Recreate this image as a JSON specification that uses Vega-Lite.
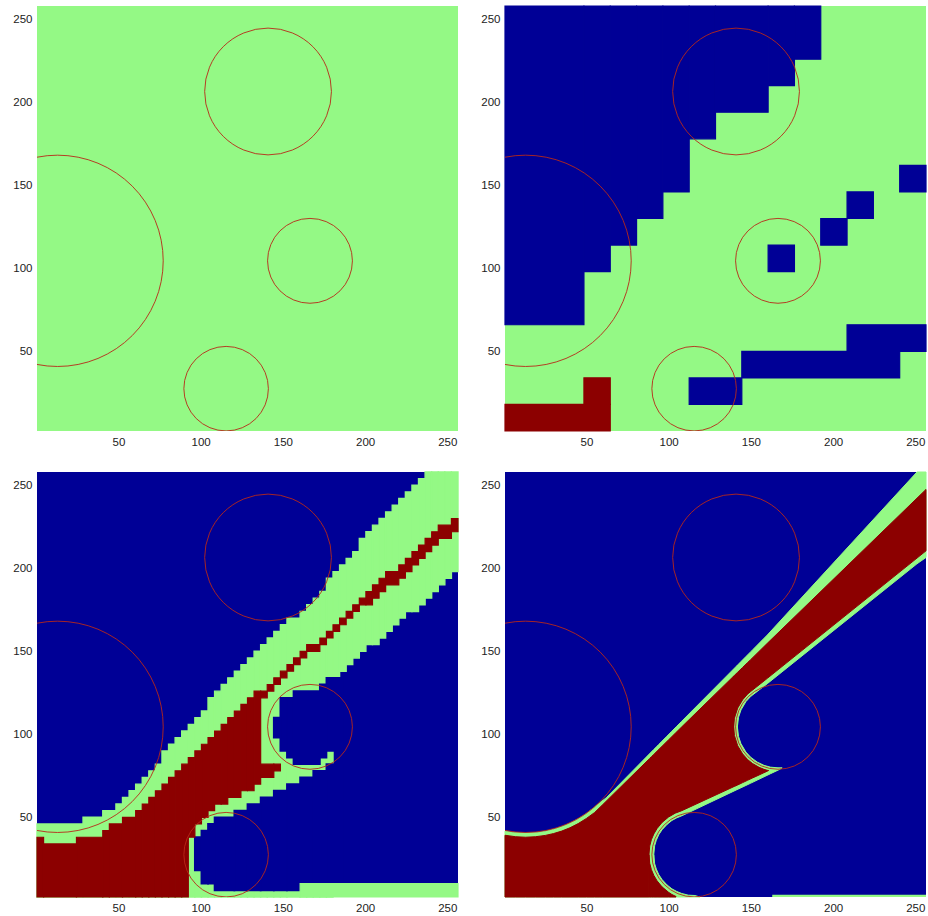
{
  "$schema": "https://vega.github.io/schema/vega-lite/v6.json",
  "padding": {"left": 12, "top": 5, "right": 0, "bottom": 0},
  "bounds": "flush",
  "columns": 2,
  "spacing": {"row": 41, "column": 47},
  "config": {
    "view": {"stroke": null},
    "axis": {"ticks": false, "domain": false, "grid": false, "labelFont": "Liberation Sans", "labelFontSize": 11.5, "labelColor": "#222222", "labelFlush": false},
    "axisX": {"labelPadding": 5},
    "axisY": {"labelPadding": 5, "labelOffset": 3}
  },
  "datasets": {
    "circles": [
      {"cx": 13, "cy": 103, "r": 64},
      {"cx": 141, "cy": 205, "r": 38.4},
      {"cx": 166.5, "cy": 103, "r": 25.7},
      {"cx": 115.5, "cy": 26, "r": 25.6}
    ],
    "p1": [
      {"z": 0, "c": "g", "x": 0.5, "x2": 256.5, "y": 0.5, "y2": 256.5}
    ],
    "p2": [
      {"z": 0, "c": "g", "x": 0.5, "x2": 256.5, "y": 0.5, "y2": 256.5},
      {"z": 1, "c": "b", "x": 0.5, "x2": 48.5, "y": 64.5, "y2": 256.5},
      {"z": 1, "c": "b", "x": 48.5, "x2": 64.5, "y": 96.5, "y2": 256.5},
      {"z": 1, "c": "b", "x": 64.5, "x2": 80.5, "y": 112.5, "y2": 256.5},
      {"z": 1, "c": "b", "x": 80.5, "x2": 96.5, "y": 128.5, "y2": 256.5},
      {"z": 1, "c": "b", "x": 96.5, "x2": 112.5, "y": 144.5, "y2": 256.5},
      {"z": 1, "c": "b", "x": 112.5, "x2": 128.5, "y": 176.5, "y2": 256.5},
      {"z": 1, "c": "b", "x": 128.5, "x2": 160.5, "y": 192.5, "y2": 256.5},
      {"z": 1, "c": "b", "x": 160.5, "x2": 176.5, "y": 208.5, "y2": 256.5},
      {"z": 1, "c": "b", "x": 176.5, "x2": 192.5, "y": 224.5, "y2": 256.5},
      {"z": 1, "c": "b", "x": 240.5, "x2": 256.5, "y": 144.5, "y2": 160.5},
      {"z": 1, "c": "b", "x": 208.5, "x2": 224.5, "y": 128.5, "y2": 144.5},
      {"z": 1, "c": "b", "x": 192.5, "x2": 208.5, "y": 112.5, "y2": 128.5},
      {"z": 1, "c": "b", "x": 160.5, "x2": 176.5, "y": 96.5, "y2": 112.5},
      {"z": 1, "c": "b", "x": 208.5, "x2": 256.5, "y": 48.5, "y2": 64.5},
      {"z": 1, "c": "b", "x": 144.5, "x2": 240.5, "y": 32.5, "y2": 48.5},
      {"z": 1, "c": "b", "x": 112.5, "x2": 144.5, "y": 16.5, "y2": 32.5},
      {"z": 1, "c": "r", "x": 0.5, "x2": 64.5, "y": 0.5, "y2": 16.5},
      {"z": 1, "c": "r", "x": 48.5, "x2": 64.5, "y": 16.5, "y2": 32.5}
    ],
    "p3": [
      {"z": 0, "c": "b", "x": 0.5, "x2": 256.5, "y": 0.5, "y2": 256.5},
      {"z": 1, "c": "g", "x": 0.5, "x2": 28.5, "y": 0.5, "y2": 44.5},
      {"z": 1, "c": "g", "x": 28.5, "x2": 40.5, "y": 0.5, "y2": 48.5},
      {"z": 1, "c": "g", "x": 40.5, "x2": 48.5, "y": 0.5, "y2": 52.5},
      {"z": 1, "c": "g", "x": 48.5, "x2": 52.5, "y": 0.5, "y2": 56.5},
      {"z": 1, "c": "g", "x": 52.5, "x2": 56.5, "y": 0.5, "y2": 60.5},
      {"z": 1, "c": "g", "x": 56.5, "x2": 60.5, "y": 0.5, "y2": 64.5},
      {"z": 1, "c": "g", "x": 60.5, "x2": 64.5, "y": 0.5, "y2": 68.5},
      {"z": 1, "c": "g", "x": 64.5, "x2": 68.5, "y": 0.5, "y2": 72.5},
      {"z": 1, "c": "g", "x": 68.5, "x2": 72.5, "y": 0.5, "y2": 76.5},
      {"z": 1, "c": "g", "x": 72.5, "x2": 76.5, "y": 0.5, "y2": 80.5},
      {"z": 1, "c": "g", "x": 76.5, "x2": 80.5, "y": 0.5, "y2": 88.5},
      {"z": 1, "c": "g", "x": 80.5, "x2": 84.5, "y": 0.5, "y2": 92.5},
      {"z": 1, "c": "g", "x": 84.5, "x2": 88.5, "y": 0.5, "y2": 96.5},
      {"z": 1, "c": "g", "x": 88.5, "x2": 92.5, "y": 0.5, "y2": 100.5},
      {"z": 1, "c": "g", "x": 92.5, "x2": 96.5, "y": 0.5, "y2": 104.5},
      {"z": 1, "c": "g", "x": 96.5, "x2": 100.5, "y": 0.5, "y2": 108.5},
      {"z": 1, "c": "g", "x": 100.5, "x2": 104.5, "y": 0.5, "y2": 112.5},
      {"z": 1, "c": "g", "x": 104.5, "x2": 108.5, "y": 0.5, "y2": 120.5},
      {"z": 1, "c": "g", "x": 108.5, "x2": 112.5, "y": 0.5, "y2": 124.5},
      {"z": 1, "c": "g", "x": 112.5, "x2": 116.5, "y": 0.5, "y2": 128.5},
      {"z": 1, "c": "g", "x": 116.5, "x2": 120.5, "y": 0.5, "y2": 132.5},
      {"z": 1, "c": "g", "x": 120.5, "x2": 124.5, "y": 0.5, "y2": 136.5},
      {"z": 1, "c": "g", "x": 124.5, "x2": 128.5, "y": 0.5, "y2": 140.5},
      {"z": 1, "c": "g", "x": 128.5, "x2": 132.5, "y": 0.5, "y2": 144.5},
      {"z": 1, "c": "g", "x": 132.5, "x2": 136.5, "y": 0.5, "y2": 148.5},
      {"z": 1, "c": "g", "x": 136.5, "x2": 140.5, "y": 0.5, "y2": 152.5},
      {"z": 1, "c": "g", "x": 140.5, "x2": 144.5, "y": 0.5, "y2": 156.5},
      {"z": 1, "c": "g", "x": 144.5, "x2": 148.5, "y": 0.5, "y2": 160.5},
      {"z": 1, "c": "g", "x": 148.5, "x2": 152.5, "y": 0.5, "y2": 164.5},
      {"z": 1, "c": "g", "x": 152.5, "x2": 160.5, "y": 0.5, "y2": 168.5},
      {"z": 1, "c": "g", "x": 160.5, "x2": 164.5, "y": 0.5, "y2": 172.5},
      {"z": 1, "c": "g", "x": 164.5, "x2": 168.5, "y": 0.5, "y2": 176.5},
      {"z": 1, "c": "g", "x": 168.5, "x2": 172.5, "y": 0.5, "y2": 180.5},
      {"z": 1, "c": "g", "x": 172.5, "x2": 176.5, "y": 0.5, "y2": 184.5},
      {"z": 1, "c": "g", "x": 176.5, "x2": 180.5, "y": 0.5, "y2": 192.5},
      {"z": 1, "c": "g", "x": 180.5, "x2": 184.5, "y": 132.5, "y2": 196.5},
      {"z": 1, "c": "g", "x": 184.5, "x2": 188.5, "y": 136.5, "y2": 200.5},
      {"z": 1, "c": "g", "x": 188.5, "x2": 192.5, "y": 140.5, "y2": 204.5},
      {"z": 1, "c": "g", "x": 192.5, "x2": 196.5, "y": 144.5, "y2": 208.5},
      {"z": 1, "c": "g", "x": 196.5, "x2": 200.5, "y": 148.5, "y2": 216.5},
      {"z": 1, "c": "g", "x": 200.5, "x2": 204.5, "y": 152.5, "y2": 220.5},
      {"z": 1, "c": "g", "x": 204.5, "x2": 208.5, "y": 152.5, "y2": 224.5},
      {"z": 1, "c": "g", "x": 208.5, "x2": 212.5, "y": 156.5, "y2": 228.5},
      {"z": 1, "c": "g", "x": 212.5, "x2": 216.5, "y": 160.5, "y2": 232.5},
      {"z": 1, "c": "g", "x": 216.5, "x2": 220.5, "y": 164.5, "y2": 236.5},
      {"z": 1, "c": "g", "x": 220.5, "x2": 224.5, "y": 168.5, "y2": 240.5},
      {"z": 1, "c": "g", "x": 224.5, "x2": 228.5, "y": 172.5, "y2": 244.5},
      {"z": 1, "c": "g", "x": 228.5, "x2": 232.5, "y": 172.5, "y2": 248.5},
      {"z": 1, "c": "g", "x": 232.5, "x2": 236.5, "y": 176.5, "y2": 252.5},
      {"z": 1, "c": "g", "x": 236.5, "x2": 240.5, "y": 180.5, "y2": 256.5},
      {"z": 1, "c": "g", "x": 240.5, "x2": 244.5, "y": 184.5, "y2": 256.5},
      {"z": 1, "c": "g", "x": 244.5, "x2": 248.5, "y": 188.5, "y2": 256.5},
      {"z": 1, "c": "g", "x": 248.5, "x2": 252.5, "y": 192.5, "y2": 256.5},
      {"z": 1, "c": "g", "x": 252.5, "x2": 256.5, "y": 196.5, "y2": 256.5},
      {"z": 2, "c": "b", "x": 96.5, "x2": 100.5, "y": 16.5, "y2": 36.5},
      {"z": 2, "c": "b", "x": 100.5, "x2": 104.5, "y": 8.5, "y2": 40.5},
      {"z": 2, "c": "b", "x": 104.5, "x2": 108.5, "y": 8.5, "y2": 44.5},
      {"z": 2, "c": "b", "x": 108.5, "x2": 120.5, "y": 4.5, "y2": 48.5},
      {"z": 2, "c": "b", "x": 120.5, "x2": 128.5, "y": 4.5, "y2": 52.5},
      {"z": 2, "c": "b", "x": 128.5, "x2": 136.5, "y": 4.5, "y2": 56.5},
      {"z": 2, "c": "b", "x": 136.5, "x2": 144.5, "y": 4.5, "y2": 60.5},
      {"z": 2, "c": "b", "x": 144.5, "x2": 152.5, "y": 4.5, "y2": 64.5},
      {"z": 2, "c": "b", "x": 152.5, "x2": 160.5, "y": 4.5, "y2": 68.5},
      {"z": 2, "c": "b", "x": 160.5, "x2": 168.5, "y": 8.5, "y2": 72.5},
      {"z": 2, "c": "b", "x": 168.5, "x2": 176.5, "y": 8.5, "y2": 76.5},
      {"z": 2, "c": "b", "x": 176.5, "x2": 186.5, "y": 8.5, "y2": 80.5},
      {"z": 2, "c": "b", "x": 144.5, "x2": 148.5, "y": 96.5, "y2": 108.5},
      {"z": 2, "c": "b", "x": 148.5, "x2": 152.5, "y": 88.5, "y2": 120.5},
      {"z": 2, "c": "b", "x": 152.5, "x2": 156.5, "y": 84.5, "y2": 120.5},
      {"z": 2, "c": "b", "x": 156.5, "x2": 172.5, "y": 80.5, "y2": 124.5},
      {"z": 2, "c": "b", "x": 172.5, "x2": 176.5, "y": 84.5, "y2": 128.5},
      {"z": 2, "c": "b", "x": 176.5, "x2": 186.5, "y": 88.5, "y2": 132.5},
      {"z": 3, "c": "g", "x": 160.5, "x2": 256.5, "y": 0.5, "y2": 8.5},
      {"z": 3, "c": "r", "x": 0.5, "x2": 4.5, "y": 0.5, "y2": 36.5},
      {"z": 3, "c": "r", "x": 4.5, "x2": 24.5, "y": 0.5, "y2": 32.5},
      {"z": 3, "c": "r", "x": 24.5, "x2": 40.5, "y": 0.5, "y2": 36.5},
      {"z": 3, "c": "r", "x": 40.5, "x2": 44.5, "y": 0.5, "y2": 40.5},
      {"z": 3, "c": "r", "x": 44.5, "x2": 52.5, "y": 0.5, "y2": 44.5},
      {"z": 3, "c": "r", "x": 52.5, "x2": 60.5, "y": 0.5, "y2": 48.5},
      {"z": 3, "c": "r", "x": 60.5, "x2": 64.5, "y": 0.5, "y2": 52.5},
      {"z": 3, "c": "r", "x": 64.5, "x2": 68.5, "y": 0.5, "y2": 56.5},
      {"z": 3, "c": "r", "x": 68.5, "x2": 72.5, "y": 0.5, "y2": 60.5},
      {"z": 3, "c": "r", "x": 72.5, "x2": 76.5, "y": 0.5, "y2": 64.5},
      {"z": 3, "c": "r", "x": 76.5, "x2": 80.5, "y": 0.5, "y2": 68.5},
      {"z": 3, "c": "r", "x": 80.5, "x2": 84.5, "y": 0.5, "y2": 72.5},
      {"z": 3, "c": "r", "x": 84.5, "x2": 88.5, "y": 0.5, "y2": 76.5},
      {"z": 3, "c": "r", "x": 88.5, "x2": 92.5, "y": 0.5, "y2": 80.5},
      {"z": 3, "c": "r", "x": 92.5, "x2": 96.5, "y": 36.5, "y2": 84.5},
      {"z": 3, "c": "r", "x": 96.5, "x2": 100.5, "y": 44.5, "y2": 88.5},
      {"z": 3, "c": "r", "x": 100.5, "x2": 104.5, "y": 48.5, "y2": 92.5},
      {"z": 3, "c": "r", "x": 104.5, "x2": 108.5, "y": 52.5, "y2": 96.5},
      {"z": 3, "c": "r", "x": 108.5, "x2": 112.5, "y": 56.5, "y2": 100.5},
      {"z": 3, "c": "r", "x": 112.5, "x2": 116.5, "y": 56.5, "y2": 104.5},
      {"z": 3, "c": "r", "x": 116.5, "x2": 120.5, "y": 60.5, "y2": 108.5},
      {"z": 3, "c": "r", "x": 120.5, "x2": 124.5, "y": 60.5, "y2": 112.5},
      {"z": 3, "c": "r", "x": 124.5, "x2": 128.5, "y": 64.5, "y2": 116.5},
      {"z": 3, "c": "r", "x": 128.5, "x2": 132.5, "y": 64.5, "y2": 120.5},
      {"z": 3, "c": "r", "x": 132.5, "x2": 136.5, "y": 68.5, "y2": 124.5},
      {"z": 3, "c": "r", "x": 136.5, "x2": 144.5, "y": 72.5, "y2": 80.5},
      {"z": 3, "c": "r", "x": 144.5, "x2": 148.5, "y": 76.5, "y2": 80.5},
      {"z": 3, "c": "r", "x": 136.5, "x2": 140.5, "y": 120.5, "y2": 124.5},
      {"z": 3, "c": "r", "x": 140.5, "x2": 144.5, "y": 124.5, "y2": 128.5},
      {"z": 3, "c": "r", "x": 144.5, "x2": 148.5, "y": 128.5, "y2": 132.5},
      {"z": 3, "c": "r", "x": 148.5, "x2": 152.5, "y": 132.5, "y2": 136.5},
      {"z": 3, "c": "r", "x": 152.5, "x2": 156.5, "y": 136.5, "y2": 140.5},
      {"z": 3, "c": "r", "x": 156.5, "x2": 160.5, "y": 140.5, "y2": 144.5},
      {"z": 3, "c": "r", "x": 160.5, "x2": 164.5, "y": 144.5, "y2": 148.5},
      {"z": 3, "c": "r", "x": 164.5, "x2": 172.5, "y": 148.5, "y2": 152.5},
      {"z": 3, "c": "r", "x": 172.5, "x2": 176.5, "y": 152.5, "y2": 156.5},
      {"z": 3, "c": "r", "x": 176.5, "x2": 180.5, "y": 156.5, "y2": 160.5},
      {"z": 3, "c": "r", "x": 180.5, "x2": 184.5, "y": 160.5, "y2": 164.5},
      {"z": 3, "c": "r", "x": 184.5, "x2": 188.5, "y": 164.5, "y2": 168.5},
      {"z": 3, "c": "r", "x": 188.5, "x2": 192.5, "y": 168.5, "y2": 172.5},
      {"z": 3, "c": "r", "x": 192.5, "x2": 196.5, "y": 172.5, "y2": 176.5},
      {"z": 3, "c": "r", "x": 196.5, "x2": 200.5, "y": 176.5, "y2": 180.5},
      {"z": 3, "c": "r", "x": 200.5, "x2": 204.5, "y": 176.5, "y2": 184.5},
      {"z": 3, "c": "r", "x": 204.5, "x2": 208.5, "y": 180.5, "y2": 188.5},
      {"z": 3, "c": "r", "x": 208.5, "x2": 212.5, "y": 184.5, "y2": 192.5},
      {"z": 3, "c": "r", "x": 212.5, "x2": 220.5, "y": 188.5, "y2": 196.5},
      {"z": 3, "c": "r", "x": 220.5, "x2": 224.5, "y": 192.5, "y2": 200.5},
      {"z": 3, "c": "r", "x": 224.5, "x2": 228.5, "y": 196.5, "y2": 204.5},
      {"z": 3, "c": "r", "x": 228.5, "x2": 232.5, "y": 200.5, "y2": 208.5},
      {"z": 3, "c": "r", "x": 232.5, "x2": 236.5, "y": 204.5, "y2": 212.5},
      {"z": 3, "c": "r", "x": 236.5, "x2": 240.5, "y": 208.5, "y2": 216.5},
      {"z": 3, "c": "r", "x": 240.5, "x2": 244.5, "y": 212.5, "y2": 220.5},
      {"z": 3, "c": "r", "x": 244.5, "x2": 252.5, "y": 216.5, "y2": 224.5},
      {"z": 3, "c": "r", "x": 252.5, "x2": 256.5, "y": 220.5, "y2": 228.5}
    ],
    "p4": [
      {"z": 0, "c": "b", "x": 0.5, "x2": 256.5, "y": 0.5, "y2": 256.5},
      {"z": 4, "c": "g", "x": 163, "x2": 256.5, "y": 0.5, "y2": 1.8}
    ],
    "p4a": [
      {"s": "g1", "c": "g", "x": 0.5, "lo": 0.5, "hi": 40.2},
      {"s": "g1", "c": "g", "x": 5, "lo": 0.5, "hi": 39.5},
      {"s": "g1", "c": "g", "x": 13, "lo": 0.5, "hi": 39},
      {"s": "g1", "c": "g", "x": 20, "lo": 0.5, "hi": 39.4},
      {"s": "g1", "c": "g", "x": 25, "lo": 0.5, "hi": 40.1},
      {"s": "g1", "c": "g", "x": 30, "lo": 0.5, "hi": 41.3},
      {"s": "g1", "c": "g", "x": 35, "lo": 0.5, "hi": 42.9},
      {"s": "g1", "c": "g", "x": 40, "lo": 0.5, "hi": 45},
      {"s": "g1", "c": "g", "x": 45, "lo": 0.5, "hi": 47.6},
      {"s": "g1", "c": "g", "x": 50, "lo": 0.5, "hi": 50.8},
      {"s": "g1", "c": "g", "x": 55, "lo": 0.5, "hi": 54.7},
      {"s": "g1", "c": "g", "x": 58, "lo": 0.5, "hi": 57.2},
      {"s": "g1", "c": "g", "x": 62, "lo": 0.5, "hi": 60.2},
      {"s": "g1", "c": "g", "x": 90.9, "lo": 0.5, "hi": 89.3},
      {"s": "g1", "c": "g", "x": 90.95, "lo": 26, "hi": 89.4},
      {"s": "g1", "c": "g", "x": 91.5, "lo": 31.4, "hi": 89.9},
      {"s": "g1", "c": "g", "x": 92.5, "lo": 34.7, "hi": 90.9},
      {"s": "g1", "c": "g", "x": 94, "lo": 38, "hi": 92.4},
      {"s": "g1", "c": "g", "x": 96, "lo": 41, "hi": 94.4},
      {"s": "g1", "c": "g", "x": 99, "lo": 44.2, "hi": 97.4},
      {"s": "g1", "c": "g", "x": 102, "lo": 46.6, "hi": 100.4},
      {"s": "g1", "c": "g", "x": 105, "lo": 48.2, "hi": 103.4},
      {"s": "g1", "c": "g", "x": 108, "lo": 49.4, "hi": 106.4},
      {"s": "g1", "c": "g", "x": 141.8, "lo": 65.3, "hi": 140.1},
      {"s": "g2", "c": "g", "x": 90.9, "lo": 0.5, "hi": 26},
      {"s": "g2", "c": "g", "x": 91.5, "lo": 0.5, "hi": 20.6},
      {"s": "g2", "c": "g", "x": 92.5, "lo": 0.5, "hi": 17.3},
      {"s": "g2", "c": "g", "x": 94, "lo": 0.5, "hi": 14},
      {"s": "g2", "c": "g", "x": 96, "lo": 0.5, "hi": 11},
      {"s": "g2", "c": "g", "x": 99, "lo": 0.5, "hi": 7.8},
      {"s": "g2", "c": "g", "x": 102, "lo": 0.5, "hi": 5.4},
      {"s": "g2", "c": "g", "x": 105, "lo": 0.5, "hi": 3.8},
      {"s": "g2", "c": "g", "x": 108, "lo": 0.5, "hi": 2.6},
      {"s": "g2", "c": "g", "x": 112, "lo": 0.5, "hi": 1.6},
      {"s": "g2", "c": "g", "x": 116, "lo": 0.5, "hi": 1.4},
      {"s": "g2", "c": "g", "x": 119, "lo": 0.5, "hi": 0.5},
      {"s": "g3", "c": "g", "x": 141.8, "lo": 65.3, "hi": 103},
      {"s": "g3", "c": "g", "x": 142.5, "lo": 65.6, "hi": 97.2},
      {"s": "g3", "c": "g", "x": 144, "lo": 66.3, "hi": 92.8},
      {"s": "g3", "c": "g", "x": 147, "lo": 67.7, "hi": 87.8},
      {"s": "g3", "c": "g", "x": 150, "lo": 69.1, "hi": 84.6},
      {"s": "g3", "c": "g", "x": 154, "lo": 71, "hi": 81.7},
      {"s": "g3", "c": "g", "x": 158, "lo": 72.9, "hi": 79.8},
      {"s": "g3", "c": "g", "x": 162, "lo": 74.8, "hi": 78.7},
      {"s": "g3", "c": "g", "x": 166.5, "lo": 76.9, "hi": 78.3},
      {"s": "g3", "c": "g", "x": 169, "lo": 78.2, "hi": 78.3},
      {"s": "g4", "c": "g", "x": 141.8, "lo": 103, "hi": 140.1},
      {"s": "g4", "c": "g", "x": 142.5, "lo": 108.8, "hi": 140.8},
      {"s": "g4", "c": "g", "x": 144, "lo": 113.2, "hi": 142.3},
      {"s": "g4", "c": "g", "x": 147, "lo": 118.2, "hi": 145.3},
      {"s": "g4", "c": "g", "x": 150, "lo": 121.4, "hi": 148.3},
      {"s": "g4", "c": "g", "x": 151.3, "lo": 122.4, "hi": 149.6},
      {"s": "g4", "c": "g", "x": 160, "lo": 129, "hi": 158.3},
      {"s": "g4", "c": "g", "x": 251, "lo": 201.2, "hi": 256.5},
      {"s": "g4", "c": "g", "x": 256.5, "lo": 205, "hi": 256.5},
      {"s": "r1", "c": "r", "x": 0.5, "lo": 0.5, "hi": 37.7},
      {"s": "r1", "c": "r", "x": 7, "lo": 0.5, "hi": 36.8},
      {"s": "r1", "c": "r", "x": 13, "lo": 0.5, "hi": 36.5},
      {"s": "r1", "c": "r", "x": 19, "lo": 0.5, "hi": 36.8},
      {"s": "r1", "c": "r", "x": 25, "lo": 0.5, "hi": 37.6},
      {"s": "r1", "c": "r", "x": 30, "lo": 0.5, "hi": 38.7},
      {"s": "r1", "c": "r", "x": 35, "lo": 0.5, "hi": 40.2},
      {"s": "r1", "c": "r", "x": 40, "lo": 0.5, "hi": 42.2},
      {"s": "r1", "c": "r", "x": 45, "lo": 0.5, "hi": 44.7},
      {"s": "r1", "c": "r", "x": 50, "lo": 0.5, "hi": 47.8},
      {"s": "r1", "c": "r", "x": 55, "lo": 0.5, "hi": 51.4},
      {"s": "r1", "c": "r", "x": 60, "lo": 0.5, "hi": 56.2},
      {"s": "r1", "c": "r", "x": 88, "lo": 0.5, "hi": 83.5},
      {"s": "r1", "c": "r", "x": 88.05, "lo": 26, "hi": 83.5},
      {"s": "r1", "c": "r", "x": 88.5, "lo": 31.2, "hi": 84},
      {"s": "r1", "c": "r", "x": 89.5, "lo": 35, "hi": 85},
      {"s": "r1", "c": "r", "x": 91, "lo": 38.5, "hi": 86.4},
      {"s": "r1", "c": "r", "x": 93, "lo": 41.8, "hi": 88.4},
      {"s": "r1", "c": "r", "x": 96, "lo": 45.4, "hi": 91.3},
      {"s": "r1", "c": "r", "x": 100, "lo": 48.7, "hi": 95.2},
      {"s": "r1", "c": "r", "x": 104, "lo": 51, "hi": 99.1},
      {"s": "r1", "c": "r", "x": 108, "lo": 52.5, "hi": 103},
      {"s": "r1", "c": "r", "x": 139.5, "lo": 66.9, "hi": 133.5},
      {"s": "r2", "c": "r", "x": 88, "lo": 0.5, "hi": 26},
      {"s": "r2", "c": "r", "x": 88.5, "lo": 0.5, "hi": 20.8},
      {"s": "r2", "c": "r", "x": 89.5, "lo": 0.5, "hi": 17},
      {"s": "r2", "c": "r", "x": 91, "lo": 0.5, "hi": 13.5},
      {"s": "r2", "c": "r", "x": 93, "lo": 0.5, "hi": 10.2},
      {"s": "r2", "c": "r", "x": 96, "lo": 0.5, "hi": 6.6},
      {"s": "r2", "c": "r", "x": 100, "lo": 0.5, "hi": 3.3},
      {"s": "r2", "c": "r", "x": 102, "lo": 0.5, "hi": 2},
      {"s": "r2", "c": "r", "x": 104.5, "lo": 0.5, "hi": 0.8},
      {"s": "r3", "c": "r", "x": 139.5, "lo": 66.9, "hi": 103},
      {"s": "r3", "c": "r", "x": 140, "lo": 67.1, "hi": 97.8},
      {"s": "r3", "c": "r", "x": 142, "lo": 68, "hi": 91.6},
      {"s": "r3", "c": "r", "x": 145, "lo": 69.4, "hi": 86.7},
      {"s": "r3", "c": "r", "x": 148, "lo": 70.8, "hi": 83.3},
      {"s": "r3", "c": "r", "x": 151, "lo": 72.2, "hi": 80.9},
      {"s": "r3", "c": "r", "x": 155, "lo": 74, "hi": 78.6},
      {"s": "r3", "c": "r", "x": 158, "lo": 75.4, "hi": 77.4},
      {"s": "r3", "c": "r", "x": 160, "lo": 76.3, "hi": 76.8},
      {"s": "r3", "c": "r", "x": 160.8, "lo": 76.7, "hi": 76.7},
      {"s": "r4", "c": "r", "x": 139.5, "lo": 103, "hi": 133.5},
      {"s": "r4", "c": "r", "x": 140, "lo": 108.2, "hi": 134},
      {"s": "r4", "c": "r", "x": 142, "lo": 114.3, "hi": 135.9},
      {"s": "r4", "c": "r", "x": 145, "lo": 119.3, "hi": 138.8},
      {"s": "r4", "c": "r", "x": 148, "lo": 122.7, "hi": 141.7},
      {"s": "r4", "c": "r", "x": 149.7, "lo": 124.1, "hi": 143.3},
      {"s": "r4", "c": "r", "x": 160, "lo": 132.2, "hi": 153.3},
      {"s": "r4", "c": "r", "x": 256.5, "lo": 209, "hi": 246}
    ]
  },
  "concat": [
    {
      "width": 421, "height": 425,
      "layer": [
        {
          "data": {"name": "p1"},
          "mark": {"type": "rect"},
          "encoding": {
            "x": {"field": "x", "type": "quantitative", "scale": {"domain": [0.5, 256.5], "nice": false, "zero": false}, "axis": {"values": [50, 100, 150, 200, 250], "title": null}},
            "x2": {"field": "x2"},
            "y": {"field": "y", "type": "quantitative", "scale": {"domain": [0.5, 256.5], "nice": false, "zero": false}, "axis": {"values": [50, 100, 150, 200, 250], "title": null}},
            "y2": {"field": "y2"},
            "color": {"field": "c", "type": "nominal", "scale": {"domain": ["b", "g", "r"], "range": ["#000096", "#94F985", "#8C0000"]}, "legend": null}
          }
        },
        {
          "data": {"name": "circles"},
          "mark": {"type": "point", "shape": "circle", "filled": false, "clip": true, "stroke": "#B82818", "strokeWidth": 0.9, "opacity": 1},
          "encoding": {
            "x": {"field": "cx", "type": "quantitative", "scale": {"domain": [0.5, 256.5], "nice": false, "zero": false}, "axis": {"values": [50, 100, 150, 200, 250], "title": null}},
            "y": {"field": "cy", "type": "quantitative", "scale": {"domain": [0.5, 256.5], "nice": false, "zero": false}, "axis": {"values": [50, 100, 150, 200, 250], "title": null}},
            "size": {"field": "r", "type": "quantitative", "scale": {"type": "pow", "exponent": 2, "domain": [0, 100], "range": [0, 109000]}, "legend": null}
          }
        }
      ]
    },
    {
      "width": 421, "height": 425,
      "layer": [
        {
          "data": {"name": "p2"},
          "transform": [{"filter": "datum.z == 0"}],
          "mark": {"type": "rect"},
          "encoding": {
            "x": {"field": "x", "type": "quantitative", "scale": {"domain": [0.5, 256.5], "nice": false, "zero": false}, "axis": {"values": [50, 100, 150, 200, 250], "title": null}},
            "x2": {"field": "x2"},
            "y": {"field": "y", "type": "quantitative", "scale": {"domain": [0.5, 256.5], "nice": false, "zero": false}, "axis": {"values": [50, 100, 150, 200, 250], "title": null}},
            "y2": {"field": "y2"},
            "color": {"field": "c", "type": "nominal", "scale": {"domain": ["b", "g", "r"], "range": ["#000096", "#94F985", "#8C0000"]}, "legend": null}
          }
        },
        {
          "data": {"name": "p2"},
          "transform": [{"filter": "datum.z == 1"}],
          "mark": {"type": "rect", "strokeWidth": 1.2},
          "encoding": {
            "x": {"field": "x", "type": "quantitative", "scale": {"domain": [0.5, 256.5], "nice": false, "zero": false}, "axis": {"values": [50, 100, 150, 200, 250], "title": null}},
            "x2": {"field": "x2"},
            "y": {"field": "y", "type": "quantitative", "scale": {"domain": [0.5, 256.5], "nice": false, "zero": false}, "axis": {"values": [50, 100, 150, 200, 250], "title": null}},
            "y2": {"field": "y2"},
            "color": {"field": "c", "type": "nominal", "scale": {"domain": ["b", "g", "r"], "range": ["#000096", "#94F985", "#8C0000"]}, "legend": null},
            "stroke": {"field": "c", "type": "nominal", "scale": {"domain": ["b", "g", "r"], "range": ["#000096", "#94F985", "#8C0000"]}, "legend": null}
          }
        },
        {
          "data": {"name": "circles"},
          "mark": {"type": "point", "shape": "circle", "filled": false, "clip": true, "stroke": "#B82818", "strokeWidth": 0.9, "opacity": 1},
          "encoding": {
            "x": {"field": "cx", "type": "quantitative", "scale": {"domain": [0.5, 256.5], "nice": false, "zero": false}, "axis": {"values": [50, 100, 150, 200, 250], "title": null}},
            "y": {"field": "cy", "type": "quantitative", "scale": {"domain": [0.5, 256.5], "nice": false, "zero": false}, "axis": {"values": [50, 100, 150, 200, 250], "title": null}},
            "size": {"field": "r", "type": "quantitative", "scale": {"type": "pow", "exponent": 2, "domain": [0, 100], "range": [0, 109000]}, "legend": null}
          }
        }
      ]
    },
    {
      "width": 421, "height": 425,
      "layer": [
        {
          "data": {"name": "p3"},
          "transform": [{"filter": "datum.z == 0"}],
          "mark": {"type": "rect"},
          "encoding": {
            "x": {"field": "x", "type": "quantitative", "scale": {"domain": [0.5, 256.5], "nice": false, "zero": false}, "axis": {"values": [50, 100, 150, 200, 250], "title": null}},
            "x2": {"field": "x2"},
            "y": {"field": "y", "type": "quantitative", "scale": {"domain": [0.5, 256.5], "nice": false, "zero": false}, "axis": {"values": [50, 100, 150, 200, 250], "title": null}},
            "y2": {"field": "y2"},
            "color": {"field": "c", "type": "nominal", "scale": {"domain": ["b", "g", "r"], "range": ["#000096", "#94F985", "#8C0000"]}, "legend": null}
          }
        },
        {
          "data": {"name": "p3"},
          "transform": [{"filter": "datum.z == 1"}],
          "mark": {"type": "rect", "strokeWidth": 1.4},
          "encoding": {
            "x": {"field": "x", "type": "quantitative", "scale": {"domain": [0.5, 256.5], "nice": false, "zero": false}, "axis": {"values": [50, 100, 150, 200, 250], "title": null}},
            "x2": {"field": "x2"},
            "y": {"field": "y", "type": "quantitative", "scale": {"domain": [0.5, 256.5], "nice": false, "zero": false}, "axis": {"values": [50, 100, 150, 200, 250], "title": null}},
            "y2": {"field": "y2"},
            "color": {"field": "c", "type": "nominal", "scale": {"domain": ["b", "g", "r"], "range": ["#000096", "#94F985", "#8C0000"]}, "legend": null},
            "stroke": {"field": "c", "type": "nominal", "scale": {"domain": ["b", "g", "r"], "range": ["#000096", "#94F985", "#8C0000"]}, "legend": null}
          }
        },
        {
          "data": {"name": "p3"},
          "transform": [{"filter": "datum.z == 2"}],
          "mark": {"type": "rect", "strokeWidth": 1.8},
          "encoding": {
            "x": {"field": "x", "type": "quantitative", "scale": {"domain": [0.5, 256.5], "nice": false, "zero": false}, "axis": {"values": [50, 100, 150, 200, 250], "title": null}},
            "x2": {"field": "x2"},
            "y": {"field": "y", "type": "quantitative", "scale": {"domain": [0.5, 256.5], "nice": false, "zero": false}, "axis": {"values": [50, 100, 150, 200, 250], "title": null}},
            "y2": {"field": "y2"},
            "color": {"field": "c", "type": "nominal", "scale": {"domain": ["b", "g", "r"], "range": ["#000096", "#94F985", "#8C0000"]}, "legend": null},
            "stroke": {"field": "c", "type": "nominal", "scale": {"domain": ["b", "g", "r"], "range": ["#000096", "#94F985", "#8C0000"]}, "legend": null}
          }
        },
        {
          "data": {"name": "p3"},
          "transform": [{"filter": "datum.z == 3"}],
          "mark": {"type": "rect", "strokeWidth": 1.2},
          "encoding": {
            "x": {"field": "x", "type": "quantitative", "scale": {"domain": [0.5, 256.5], "nice": false, "zero": false}, "axis": {"values": [50, 100, 150, 200, 250], "title": null}},
            "x2": {"field": "x2"},
            "y": {"field": "y", "type": "quantitative", "scale": {"domain": [0.5, 256.5], "nice": false, "zero": false}, "axis": {"values": [50, 100, 150, 200, 250], "title": null}},
            "y2": {"field": "y2"},
            "color": {"field": "c", "type": "nominal", "scale": {"domain": ["b", "g", "r"], "range": ["#000096", "#94F985", "#8C0000"]}, "legend": null},
            "stroke": {"field": "c", "type": "nominal", "scale": {"domain": ["b", "g", "r"], "range": ["#000096", "#94F985", "#8C0000"]}, "legend": null}
          }
        },
        {
          "data": {"name": "circles"},
          "mark": {"type": "point", "shape": "circle", "filled": false, "clip": true, "stroke": "#B82818", "strokeWidth": 0.9, "opacity": 1},
          "encoding": {
            "x": {"field": "cx", "type": "quantitative", "scale": {"domain": [0.5, 256.5], "nice": false, "zero": false}, "axis": {"values": [50, 100, 150, 200, 250], "title": null}},
            "y": {"field": "cy", "type": "quantitative", "scale": {"domain": [0.5, 256.5], "nice": false, "zero": false}, "axis": {"values": [50, 100, 150, 200, 250], "title": null}},
            "size": {"field": "r", "type": "quantitative", "scale": {"type": "pow", "exponent": 2, "domain": [0, 100], "range": [0, 109000]}, "legend": null}
          }
        }
      ]
    },
    {
      "width": 421, "height": 425,
      "layer": [
        {
          "data": {"name": "p4"},
          "transform": [{"filter": "datum.z == 0"}],
          "mark": {"type": "rect"},
          "encoding": {
            "x": {"field": "x", "type": "quantitative", "scale": {"domain": [0.5, 256.5], "nice": false, "zero": false}, "axis": {"values": [50, 100, 150, 200, 250], "title": null}},
            "x2": {"field": "x2"},
            "y": {"field": "y", "type": "quantitative", "scale": {"domain": [0.5, 256.5], "nice": false, "zero": false}, "axis": {"values": [50, 100, 150, 200, 250], "title": null}},
            "y2": {"field": "y2"},
            "color": {"field": "c", "type": "nominal", "scale": {"domain": ["b", "g", "r"], "range": ["#000096", "#94F985", "#8C0000"]}, "legend": null}
          }
        },
        {
          "data": {"name": "p4a"},
          "transform": [{"filter": "datum.c == 'g'"}],
          "mark": {"type": "area", "strokeWidth": 1},
          "encoding": {
            "x": {"field": "x", "type": "quantitative", "scale": {"domain": [0.5, 256.5], "nice": false, "zero": false}, "axis": {"values": [50, 100, 150, 200, 250], "title": null}},
            "y": {"field": "lo", "type": "quantitative", "scale": {"domain": [0.5, 256.5], "nice": false, "zero": false}, "axis": {"values": [50, 100, 150, 200, 250], "title": null}},
            "y2": {"field": "hi"},
            "detail": {"field": "s", "type": "nominal"},
            "color": {"field": "c", "type": "nominal", "scale": {"domain": ["b", "g", "r"], "range": ["#000096", "#94F985", "#8C0000"]}, "legend": null},
            "stroke": {"field": "c", "type": "nominal", "scale": {"domain": ["b", "g", "r"], "range": ["#000096", "#94F985", "#8C0000"]}, "legend": null}
          }
        },
        {
          "data": {"name": "p4a"},
          "transform": [{"filter": "datum.c == 'r'"}],
          "mark": {"type": "area", "strokeWidth": 1},
          "encoding": {
            "x": {"field": "x", "type": "quantitative", "scale": {"domain": [0.5, 256.5], "nice": false, "zero": false}, "axis": {"values": [50, 100, 150, 200, 250], "title": null}},
            "y": {"field": "lo", "type": "quantitative", "scale": {"domain": [0.5, 256.5], "nice": false, "zero": false}, "axis": {"values": [50, 100, 150, 200, 250], "title": null}},
            "y2": {"field": "hi"},
            "detail": {"field": "s", "type": "nominal"},
            "color": {"field": "c", "type": "nominal", "scale": {"domain": ["b", "g", "r"], "range": ["#000096", "#94F985", "#8C0000"]}, "legend": null},
            "stroke": {"field": "c", "type": "nominal", "scale": {"domain": ["b", "g", "r"], "range": ["#000096", "#94F985", "#8C0000"]}, "legend": null}
          }
        },
        {
          "data": {"name": "p4"},
          "transform": [{"filter": "datum.z == 4"}],
          "mark": {"type": "rect"},
          "encoding": {
            "x": {"field": "x", "type": "quantitative", "scale": {"domain": [0.5, 256.5], "nice": false, "zero": false}, "axis": {"values": [50, 100, 150, 200, 250], "title": null}},
            "x2": {"field": "x2"},
            "y": {"field": "y", "type": "quantitative", "scale": {"domain": [0.5, 256.5], "nice": false, "zero": false}, "axis": {"values": [50, 100, 150, 200, 250], "title": null}},
            "y2": {"field": "y2"},
            "color": {"field": "c", "type": "nominal", "scale": {"domain": ["b", "g", "r"], "range": ["#000096", "#94F985", "#8C0000"]}, "legend": null}
          }
        },
        {
          "data": {"name": "circles"},
          "mark": {"type": "point", "shape": "circle", "filled": false, "clip": true, "stroke": "#B82818", "strokeWidth": 0.9, "opacity": 1},
          "encoding": {
            "x": {"field": "cx", "type": "quantitative", "scale": {"domain": [0.5, 256.5], "nice": false, "zero": false}, "axis": {"values": [50, 100, 150, 200, 250], "title": null}},
            "y": {"field": "cy", "type": "quantitative", "scale": {"domain": [0.5, 256.5], "nice": false, "zero": false}, "axis": {"values": [50, 100, 150, 200, 250], "title": null}},
            "size": {"field": "r", "type": "quantitative", "scale": {"type": "pow", "exponent": 2, "domain": [0, 100], "range": [0, 109000]}, "legend": null}
          }
        }
      ]
    }
  ]
}
